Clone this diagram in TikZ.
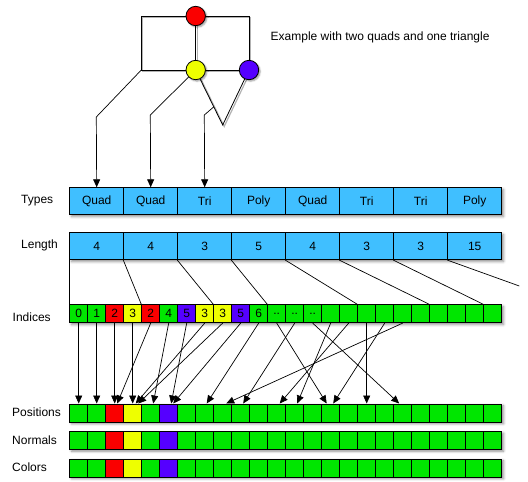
\documentclass[tikz,border=0pt]{standalone}
\usepackage{fontspec}
\setmainfont{Liberation Sans}
\usetikzlibrary{arrows.meta,shadows.blur,calc}
\definecolor{cblue}{RGB}{64,191,255}
\definecolor{cg}{RGB}{0,230,0}
\definecolor{cr}{RGB}{250,0,0}
\definecolor{cy}{RGB}{238,255,0}
\definecolor{cb}{RGB}{85,0,255}
\begin{document}
\begin{tikzpicture}[x=1pt,y=-1pt,
  font=\fontsize{12}{14}\selectfont,
  rowshadow/.style={blur shadow={shadow xshift=2pt,shadow yshift=-2pt,shadow blur radius=2.5pt,shadow opacity=45}},
  rowbar/.style={fill=white,rowshadow,inner sep=0,anchor=north west,minimum width=432pt},
  bcell/.style={draw=black,line width=0.8pt,fill=cblue,inner sep=0,anchor=north west,minimum width=54pt,minimum height=27pt},
  scell/.style={draw=black,line width=0.8pt,fill=#1,inner sep=0,anchor=north west,minimum width=18pt,minimum height=18pt},
  dot/.style={circle,draw=black,line width=0.8pt,minimum size=19.4pt,inner sep=0,fill=#1,
    blur shadow={shadow xshift=1.5pt,shadow yshift=-1.5pt,shadow blur radius=1.5pt,shadow opacity=40}},
  gline/.style={draw=black,line width=0.8pt},
  gshade/.style={draw=black!30,line width=1.2pt,transform canvas={shift={(1.5pt,-1.5pt)}}},
  conn/.style={draw=black,line width=0.7pt},
  arr/.style={conn,-{Triangle[length=8pt,width=7pt]}},
  rowlabel/.style={anchor=west,inner sep=0}
]
\useasboundingbox (0,0) rectangle (528,482);

% ---------- example graph ----------
\coordinate (tl) at (141.3,16);
\coordinate (tr) at (249,16);
\coordinate (bl) at (141.3,70);
\coordinate (tri) at (222.7,125);
\coordinate (rc) at (195.7,16);
\coordinate (yc) at (195.7,70);
\coordinate (bc) at (249,70);
% shadows of edges
\path[gshade] (rc) -- (tl) -- (bl) -- (yc);
\path[gshade] (rc) -- (tr) -- (bc);
\path[gshade] (rc) -- (yc) -- (bc);
\path[gshade] (yc) -- (tri) -- (bc);
% edges
\path[gline] (rc) -- (tl) -- (bl) -- (yc);
\path[gline] (rc) -- (tr) -- (bc);
\path[gline] (rc) -- (yc) -- (bc);
\path[gline] (yc) -- (tri) -- (bc);
\node[dot=cr] (r) at (rc) {};
\node[dot=cy] (y) at (yc) {};
\node[dot=cb] (b) at (bc) {};

\node[anchor=west,inner sep=0] (title) at (270.5,37) {Example with two quads and one triangle};

% ---------- Types ----------
\node[rowbar,minimum height=27pt] (typesbar) at (69.3,187.3) {};
\foreach \lab [count=\k from 1] in {Quad,Quad,Tri,Poly,Quad,Tri,Tri,Poly}
  \node[bcell] (t\k) at (15.3+54*\k,187.3) {\lab};
\node[rowlabel] (typeslabel) at (21,200.8) {Types};

% ---------- Length ----------
\node[rowbar,minimum height=27pt] (lenbar) at (69.3,232.3) {};
\foreach \lab [count=\k from 1] in {4,4,3,5,4,3,3,15}
  \node[bcell] (l\k) at (15.3+54*\k,232.3) {\lab};
\node[rowlabel] (lenlabel) at (21,245.8) {Length};

% ---------- Indices ----------
\node[rowbar,minimum height=18pt] (idxbar) at (69.3,304.3) {};
\foreach \lab/\col [count=\k from 0] in {0/cg,1/cg,2/cr,3/cy,2/cr,4/cg,5/cb,3/cy,3/cy,5/cb,6/cg,../cg,../cg,../cg}
  \node[scell=\col] (i\k) at (69.3+18*\k,304.3) {\lab};
\foreach \k in {14,...,23}
  \node[scell=cg] (i\k) at (69.3+18*\k,304.3) {};
\node[rowlabel] (idxlabel) at (12.5,317.5) {Indices};

% ---------- Positions / Normals / Colors ----------
\foreach \nm/\yy/\lab in {p/403.5/Positions,n/431/Normals,c/458.5/Colors}{
  \node[rowbar,minimum height=18pt] (\nm bar) at (69.3,\yy) {};
  \foreach \col [count=\k from 0] in {cg,cg,cr,cy,cg,cb,cg,cg,cg,cg,cg,cg,cg,cg,cg,cg,cg,cg,cg,cg,cg,cg,cg,cg}
    \node[scell=\col] (\nm\k) at (69.3+18*\k,\yy) {};
  \node[rowlabel] (\nm label) at (12,\yy+9) {\lab};
}

% ---------- graph to Types ----------
\coordinate (k1) at (96.3,117);
\coordinate (k2) at (150.3,115);
\coordinate (k3) at (204.3,115);
\coordinate (e3) at ($(yc)!0.67!(tri)$);
\draw[arr] (bl) -- (k1) -- (t1.north);
\draw[arr] (y) -- (k2) -- (t2.north);
\draw[arr] (e3) -- (k3) -- (t3.north);

% ---------- Length to Indices ----------
\draw[conn] (l1.south west) -- (i0.north west);
\draw[conn] (l2.south west) -- (i4.north west);
\draw[conn] (l3.south west) -- (i8.north west);
\draw[conn] (l4.south west) -- (i11.north west);
\draw[conn] (l5.south west) -- (i16.north west);
\draw[conn] (l6.south west) -- (i20.north west);
\draw[conn] (l7.south west) -- (i23.north west);
\coordinate (lend) at (519.3,286);
\draw[conn] (l8.south west) -- (lend);

% ---------- Indices to Positions ----------
\foreach \s/\t/\d in {0/0/0,1/1/0,2/2/0,3/3/0,4/2/2.5,5/4/2.5,6/5/2.5,7/3/3,8/3/5.5,9/5/4.5,10/7/2,11/14/-4,12/9/2.5,13/18/-3.5,14/12/2.5,15/11/3,16/16/0,17/14/2.5,18/8/3.5}
  \draw[arr] (i\s.south) -- ([xshift=\d pt]p\t.north);
\end{tikzpicture}
\end{document}
